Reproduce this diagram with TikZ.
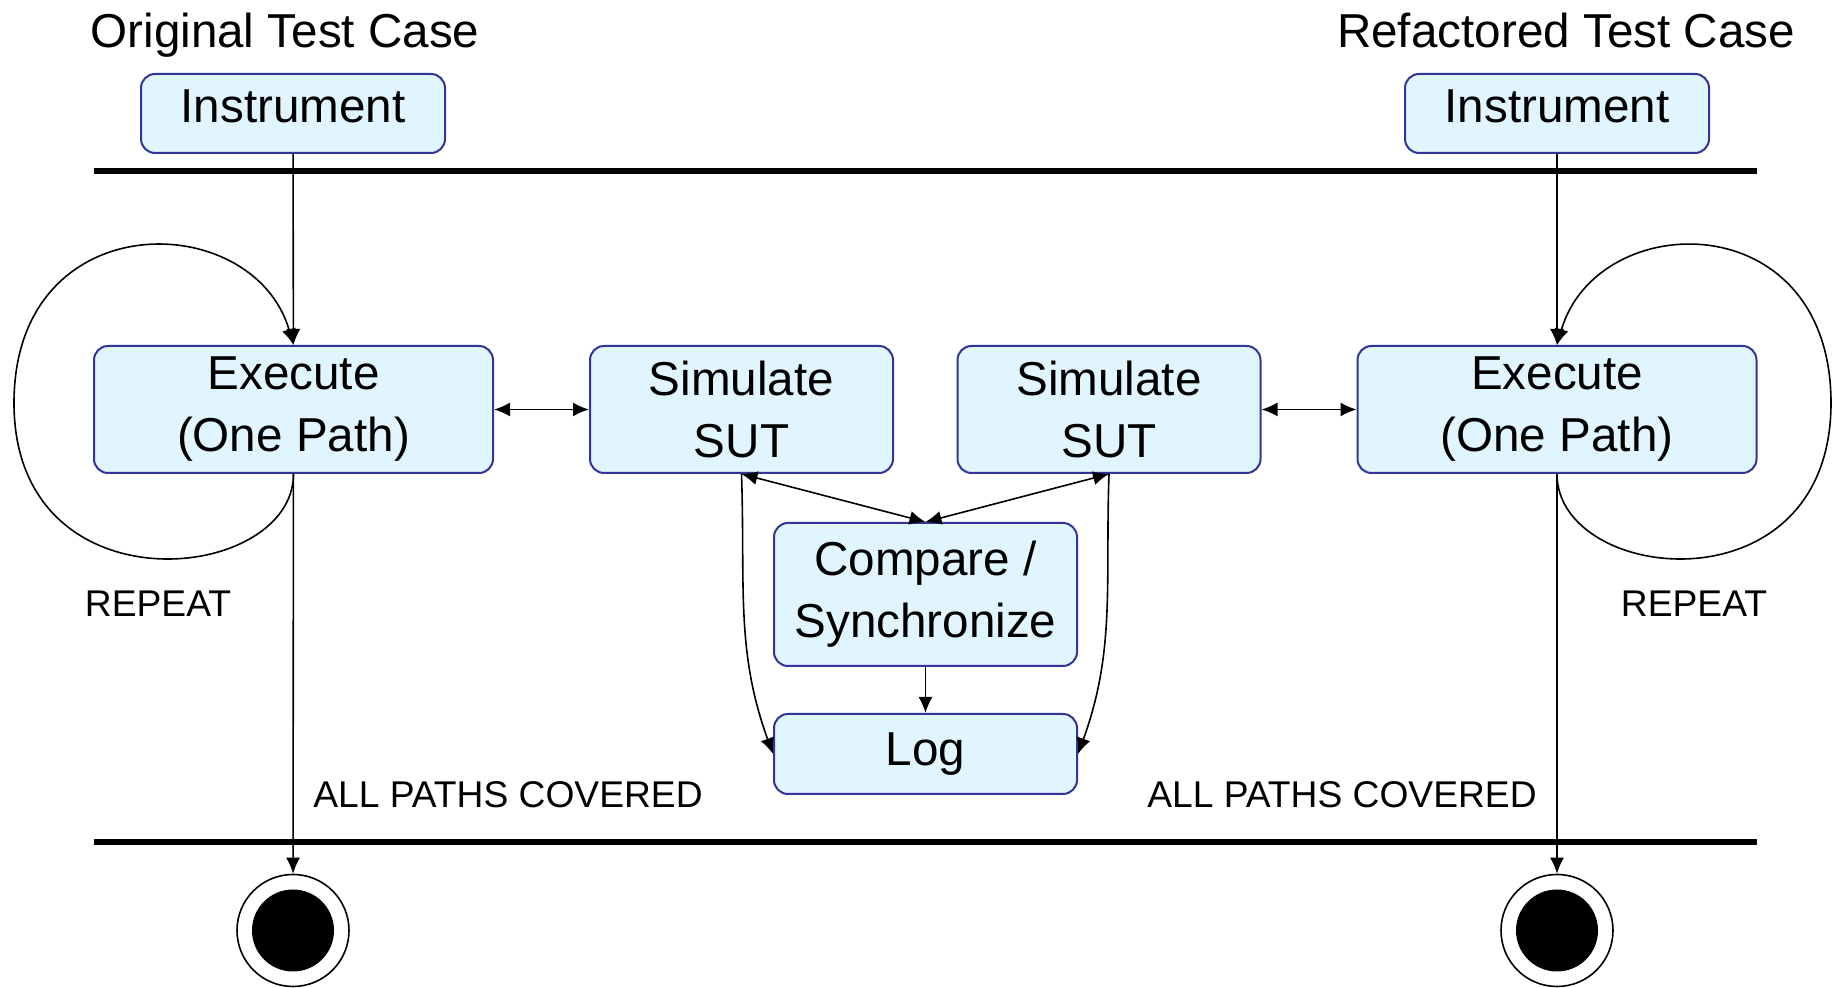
\documentclass[tikz,border=0pt]{standalone}
\usepackage{fontspec}
\setmainfont{Liberation Sans}
\usepackage{tikz}
\usetikzlibrary{arrows.meta}
\definecolor{boxfill}{RGB}{224,245,253}
\definecolor{boxline}{RGB}{51,51,153}
\newcommand{\BoxFont}{\fontsize{23.8pt}{31pt}\selectfont}
\newcommand{\LabelFont}{\fontsize{18.6pt}{22pt}\selectfont}

\begin{document}
\begin{tikzpicture}[>={Latex[length=8pt,width=7pt]}, x=0.5pt, y=0.5pt,
    state/.style={draw=boxline, line width=1pt, fill=boxfill, rounded corners=7pt,
        align=center, inner sep=0pt, font=\BoxFont, minimum width=151.5pt},
    final/.style={circle, draw, line width=0.8pt, minimum size=56pt, inner sep=0pt,
        path picture={\fill (path picture bounding box.center) circle (20.5pt);}},
    bar/.style={line width=3pt},
    link/.style={line width=0.8pt}]

    \useasboundingbox (0,0) rectangle (1833,988);

    % titles
    \node[anchor=base, font=\BoxFont] (titleL) at (285,940) {Original Test Case};
    \node[anchor=base, font=\BoxFont] (titleR) at (1566,940) {Refactored Test Case};

    % states
    \node[state, minimum width=152pt, minimum height=39.5pt, text depth=7pt] (instL) at (293,874.5) {Instrument};
    \node[state, minimum width=152pt, minimum height=39.5pt, text depth=7pt] (instR) at (1557,874.5) {Instrument};
    \node[state, minimum width=199.5pt, minimum height=63.5pt] (exL) at (293.5,578.5) {Execute\\(One Path)};
    \node[state, minimum width=199.5pt, minimum height=63.5pt] (exR) at (1557,578.5) {Execute\\(One Path)};
    \node[state, minimum height=63.5pt] (simL) at (741.5,578.5) {Simulate\\SUT};
    \node[state, minimum height=63.5pt] (simR) at (1109,578.5) {Simulate\\SUT};
    \node[state, minimum height=71.5pt] (cmp) at (925.5,393.5) {Compare /\\Synchronize};
    \node[state, minimum height=40pt] (log) at (925.5,234) {Log};

    \node[final] (endL) at (293,57.5) {};
    \node[final] (endR) at (1557,57.5) {};

    % sync bars
    \draw[bar] (94,817) coordinate (barTL) -- (1757,817) coordinate (barTR);
    \draw[bar] (94,146) coordinate (barBL) -- (1757,146) coordinate (barBR);

    % labels
    \node[font=\LabelFont] (repL) at (158,384) {REPEAT};
    \node[font=\LabelFont] (repR) at (1694,384) {REPEAT};
    \node[font=\LabelFont] (allL) at (508,193) {ALL PATHS COVERED};
    \node[font=\LabelFont] (allR) at (1342,193) {ALL PATHS COVERED};

    \coordinate (loopL) at (14,585);
    \coordinate (loopR) at (1831,585);

    % transitions
    \draw[link, ->] (instL) -- (exL);
    \draw[link, ->] (instR) -- (exR);
    \draw[link, ->] (exL) -- (endL);
    \draw[link, ->] (exR) -- (endR);
    \draw[link, <->] (exL) -- (simL);
    \draw[link, <->] (simR) -- (exR);
    \draw[link, <->] (simL.south) -- (cmp.north);
    \draw[link, <->] (simR.south) -- (cmp.north);
    \draw[link, ->] (cmp) -- (log);
    \draw[link, ->] (simL.south) to[out=-88, in=110] (log.west);
    \draw[link, ->] (simR.south) to[out=-92, in=70] (log.east);
    \draw[link, ->] (exL.south) .. controls +(0,-110) and +(0,-210) .. (loopL)
        .. controls +(0,200) and +(-40,138) .. (exL.north);
    \draw[link, ->] (exR.south) .. controls +(0,-110) and +(0,-210) .. (loopR)
        .. controls +(0,200) and +(40,138) .. (exR.north);

\end{tikzpicture}
\end{document}
